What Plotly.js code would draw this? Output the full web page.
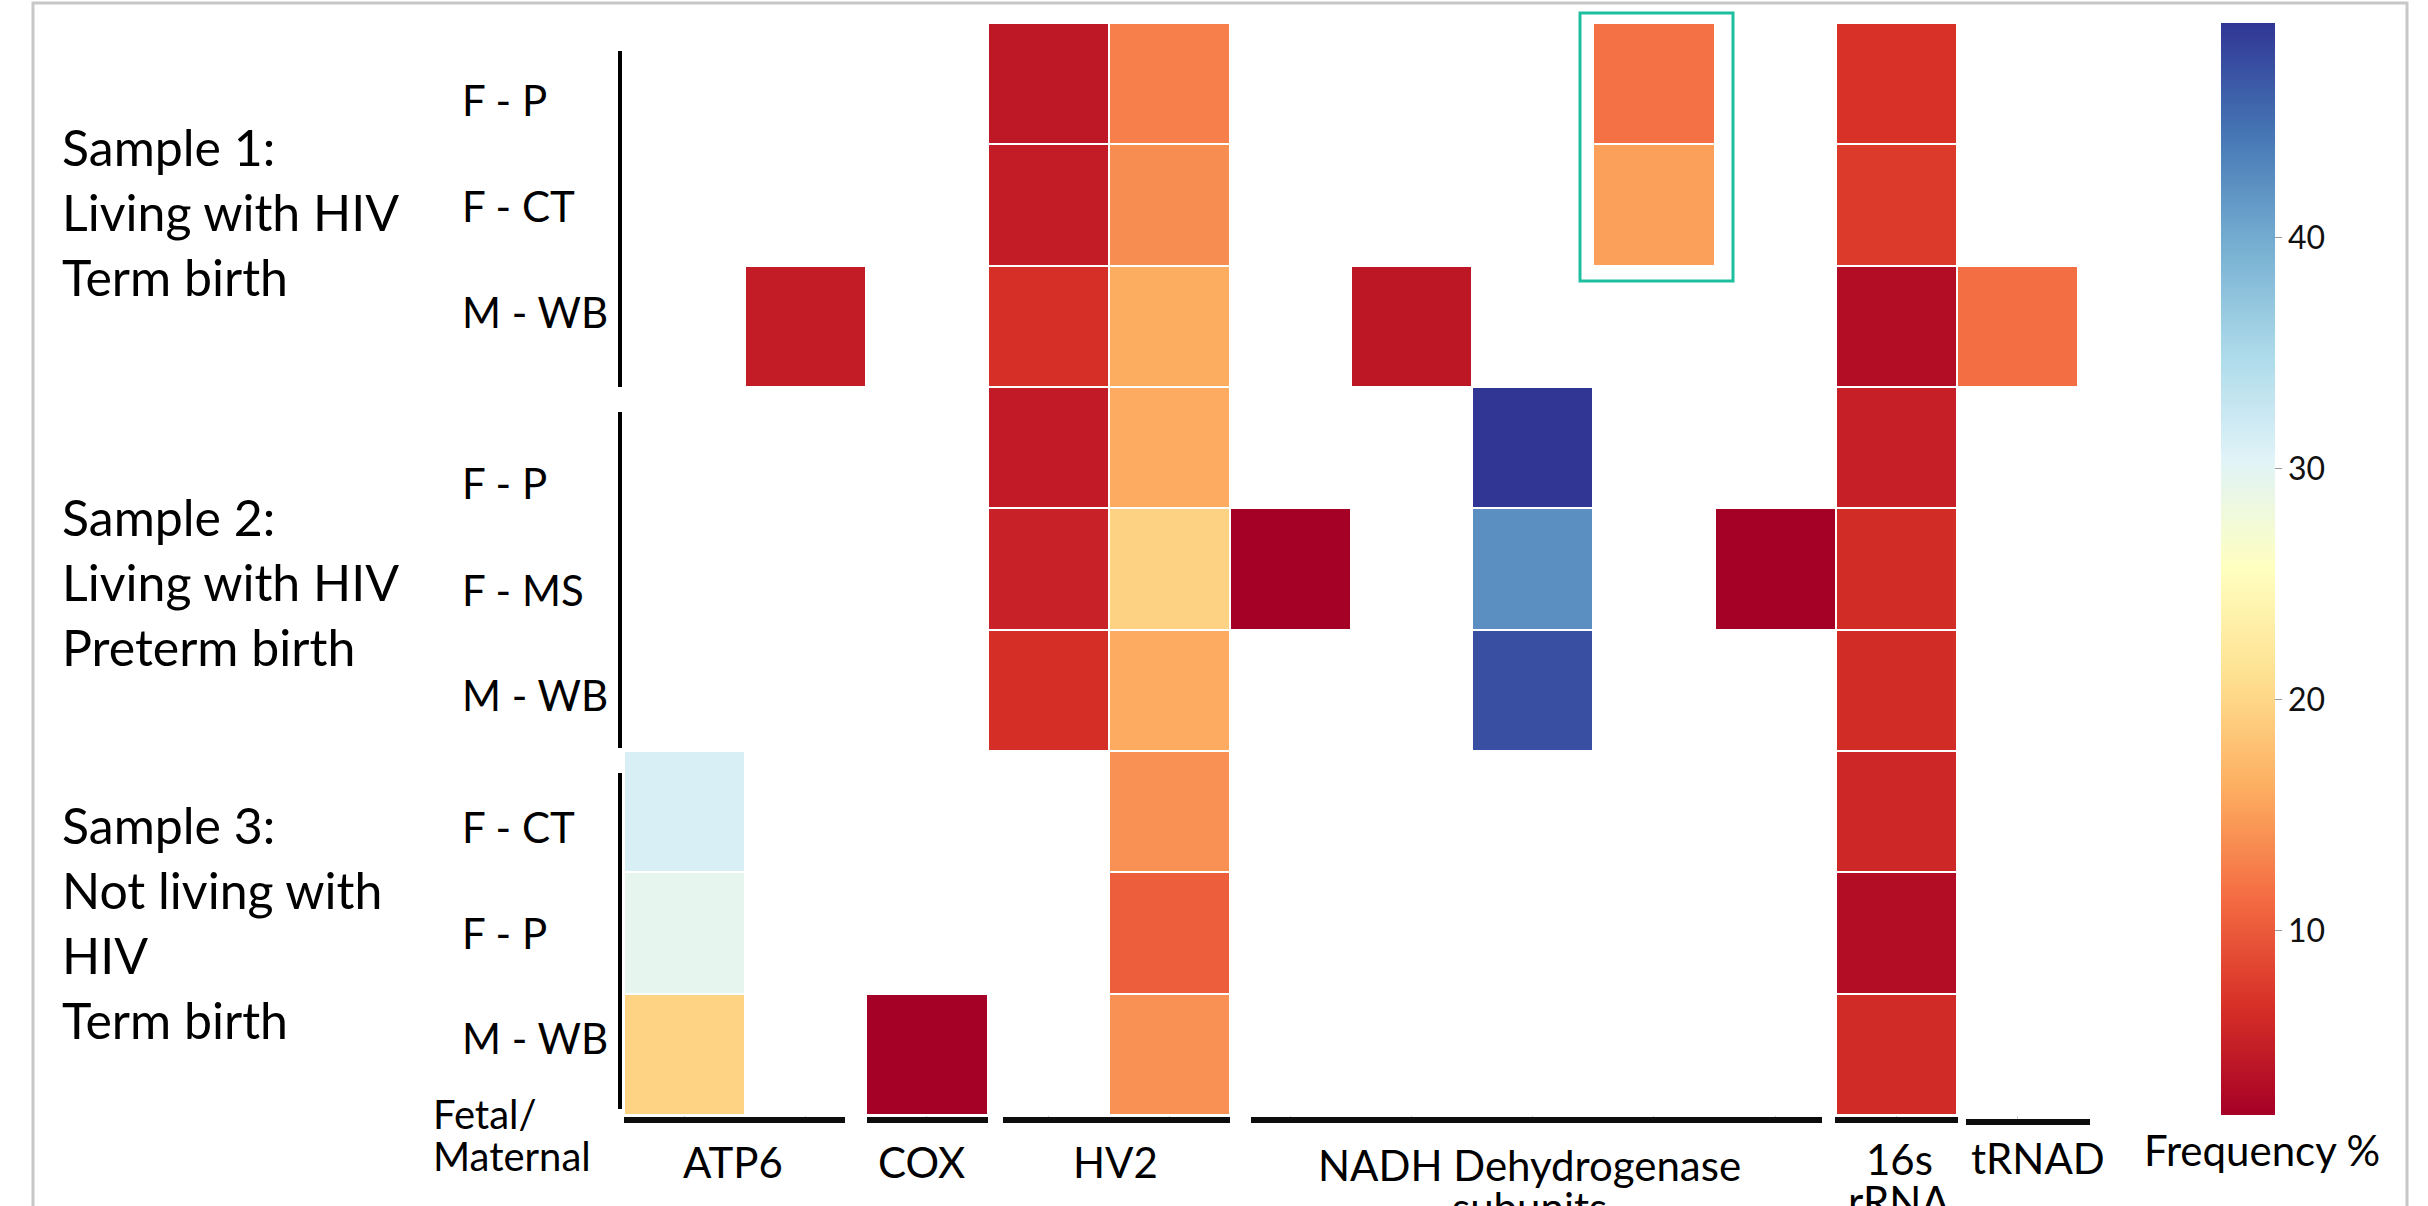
<!DOCTYPE html>
<html>
<head>
<meta charset="utf-8">
<script src="https://cdn.plot.ly/plotly-3.0.1.min.js"></script>
<style>
  html, body { margin: 0; padding: 0; background: #ffffff; }
  #chart { width: 2428px; height: 1206px; }
</style>
</head>
<body>
<div id="chart"></div>
<script>
// ---------- data ----------
var columns = ['ATP6 a', 'ATP6 b', 'COX', 'HV2 a', 'HV2 b',
               'NADH a', 'NADH b', 'NADH c', 'NADH d', 'NADH e',
               '16s rRNA', 'tRNAD'];
var rows = ['S1 F-P', 'S1 F-CT', 'S1 M-WB',
            'S2 F-P', 'S2 F-MS', 'S2 M-WB',
            'S3 F-CT', 'S3 F-P', 'S3 M-WB'];
var rowLabels = ['F - P', 'F - CT', 'M - WB',
                 'F - P', 'F - MS', 'M - WB',
                 'F - CT', 'F - P', 'M - WB'];
var sampleLabels = ['Sample 1:<br>Living with HIV<br>Term birth',
                    'Sample 2:<br>Living with HIV<br>Preterm birth',
                    'Sample 3:<br>Not living with<br>HIV<br>Term birth'];
var groupLabels = ['ATP6', 'COX', 'HV2', 'NADH Dehydrogenase', '16s', 'tRNAD'];
var groupLabels2 = ['', '', '', 'subunits', 'rRNA', ''];
var colorbarTicks = [10, 20, 30, 40];
var zMin = 2.0, zMax = 49.3;

// frequency % (null = no variant)
var freq = [
  [null, null, null, 4.4, 12.8, null, null, null, 11.7, null, 6.9, null],
  [null, null, null, 4.8, 13.8, null, null, null, 15.2, null, 7.6, null],
  [null, 4.8,  null, 6.6, 16.1, null, 4.3,  null, null, null, 3.3, 11.5],
  [null, null, null, 4.7, 16.0, null, null, 49.3, null, null, 5.1, null],
  [null, null, null, 5.3, 19.6, 2.0,  null, 42.4, null, 2.0,  6.3, null],
  [null, null, null, 6.5, 16.0, null, null, 47.4, null, null, 6.3, null],
  [31.1, null, null, null, 14.1, null, null, null, null, null, 5.8, null],
  [29.5, null, null, null, 10.3, null, null, null, null, null, 3.3, null],
  [19.7, null, 2.0,  null, 14.1, null, null, null, null, null, 6.2, null]
];

// ---------- geometry helpers (pixels -> paper) ----------
var W = 2428, H = 1206;
var PL = 624, PR = 2078, PT = 23, PB = 1115;
function px(p) { return (p - PL) / (PR - PL); }
function py(p) { return (PB - p) / (PB - PT); }

var RdYlBu = ['#a50026', '#d73027', '#f46d43', '#fdae61', '#fee090', '#ffffbf',
              '#e0f3f8', '#abd9e9', '#74add1', '#4575b4', '#313695'];
var cscale = RdYlBu.map(function (c, i) { return [i / (RdYlBu.length - 1), c]; });

var FONT = 'Lato, "Open Sans", sans-serif';

var trace = {
  type: 'heatmap',
  x: columns,
  y: rows,
  z: freq,
  zmin: zMin,
  zmax: zMax,
  colorscale: cscale,
  xgap: 2,
  ygap: 2,
  hoverongaps: false,
  colorbar: {
    xref: 'paper', x: px(2221), xanchor: 'left',
    yref: 'paper', y: 0.5, yanchor: 'middle',
    len: 1, lenmode: 'fraction',
    thickness: 54, thicknessmode: 'pixels',
    xpad: 0, ypad: 0,
    outlinewidth: 0,
    tickvals: colorbarTicks,
    ticks: 'outside', ticklen: 7, tickwidth: 1, tickcolor: '#999999',
    tickfont: { family: FONT, size: 32, color: '#111111' }
  }
};

var annotations = [];
function ann(text, xp, yp, size, xanchor, extra) {
  var a = {
    text: text, xref: 'paper', yref: 'paper',
    x: px(xp), y: py(yp), xanchor: xanchor, yanchor: 'middle',
    showarrow: false, align: xanchor === 'center' ? 'center' : 'left',
    font: { family: FONT, size: size, color: '#000000' }
  };
  if (extra) for (var k in extra) a[k] = extra[k];
  annotations.push(a);
}

// sample labels (cap-center of middle of block)
var sampleY = [212, 582, 922];
sampleLabels.forEach(function (t, i) { ann(t, 60, sampleY[i], 50, 'left'); });

// row labels
var rowLabelY = [100, 206, 312, 483, 590, 695, 827, 933, 1038];
rowLabels.forEach(function (t, i) { ann(t, 460, rowLabelY[i], 42, 'left'); });

// bottom labels
ann('Fetal/', 431, 1114, 40, 'left');
ann('Maternal', 431, 1156, 40, 'left');
var groupX = [733, 921, 1115, 1529, 1899, 2038];
var groupY = [1162, 1162, 1162, 1165, 1159, 1158];
var groupY2 = [0, 0, 0, 1207, 1201, 0];
groupLabels.forEach(function (t, i) { ann(t, groupX[i], groupY[i], 42, 'center'); });
groupLabels2.forEach(function (t, i) { if (t) ann(t, groupX[i], groupY2[i], 42, 'center'); });
ann('Frequency %', 2262, 1150, 42, 'center');

// ---------- decorative shapes ----------
var shapes = [];
function line(x0, y0, x1, y1, w, c) {
  shapes.push({ type: 'line', xref: 'paper', yref: 'paper',
    x0: px(x0), y0: py(y0), x1: px(x1), y1: py(y1),
    line: { color: c, width: w } });
}
// group underline bars
var bars = [[624, 845, 1120], [867, 988, 1120], [1003, 1230, 1120],
            [1251, 1822, 1120], [1835, 1958, 1120], [1966, 2090, 1122]];
bars.forEach(function (b) { line(b[0], b[2], b[1], b[2], 6, '#0d0d0d'); });
// vertical sample bars
[[51, 387], [412, 748], [773, 1109]].forEach(function (s) { line(620, s[0], 620, s[1], 4, '#000000'); });
// teal highlight box
shapes.push({ type: 'rect', xref: 'paper', yref: 'paper',
  x0: px(1580), x1: px(1733), y0: py(13), y1: py(281),
  line: { color: '#1dbf9f', width: 3 }, fillcolor: 'rgba(0,0,0,0)' });
// outer slide frame
shapes.push({ type: 'rect', xref: 'paper', yref: 'paper',
  x0: px(33), x1: px(2407), y0: py(3), y1: py(1230),
  line: { color: '#c8c8c8', width: 3 }, fillcolor: 'rgba(0,0,0,0)', layer: 'below' });

var layout = {
  width: W, height: H,
  margin: { l: PL, r: W - PR, t: PT, b: H - PB, pad: 0 },
  paper_bgcolor: '#ffffff',
  plot_bgcolor: '#ffffff',
  showlegend: false,
  xaxis: {
    type: 'category', showticklabels: false, showgrid: false, zeroline: false,
    ticks: 'outside', ticklen: 3, tickcolor: '#cccccc', showline: false, fixedrange: true
  },
  yaxis: {
    type: 'category', autorange: 'reversed', showticklabels: false,
    showgrid: false, zeroline: false, ticks: '', showline: false, fixedrange: true
  },
  annotations: annotations,
  shapes: shapes
};

Plotly.newPlot('chart', [trace], layout, { displayModeBar: false, staticPlot: true });
</script>
</body>
</html>
